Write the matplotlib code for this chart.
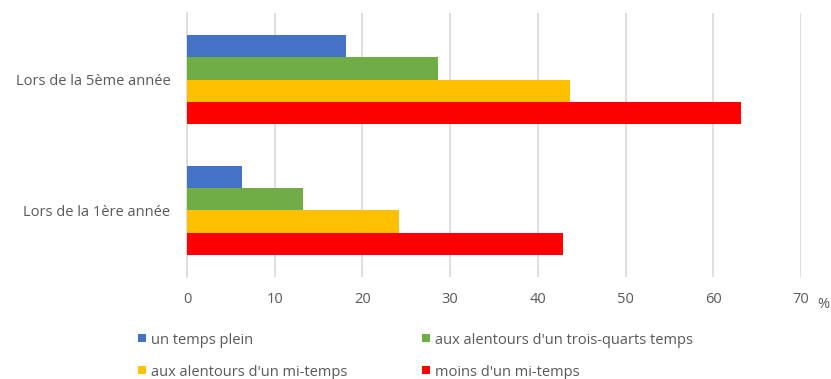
import matplotlib
matplotlib.use("Agg")
import matplotlib.pyplot as plt
from matplotlib.patches import Rectangle
import numpy as np

categories = ["Lors de la 1ère année", "Lors de la 5ème année"]
series_names = [
    "un temps plein",
    "aux alentours d'un trois-quarts temps",
    "aux alentours d'un mi-temps",
    "moins d'un mi-temps",
]
values = {
    "un temps plein": [6.3, 18.1],
    "aux alentours d'un trois-quarts temps": [13.2, 28.6],
    "aux alentours d'un mi-temps": [24.2, 43.7],
    "moins d'un mi-temps": [42.9, 63.2],
}
colors = ["#4472C4", "#70AD47", "#FFC000", "#FF0000"]
x_ticks = [0, 10, 20, 30, 40, 50, 60, 70]

plt.rcParams["font.family"] = ["Open Sans", "DejaVu Sans"]
text_color = "#595959"
fs = 10.5

W, H = 831, 379
fig = plt.figure(figsize=(W / 100, H / 100), dpi=100)
ax = fig.add_axes([187 / W, 1 - 277 / H, (801 - 187) / W, (277 - 13) / H])

n = len(series_names)
bar_h = 0.17
y = np.arange(len(categories))
for i, (name, col) in enumerate(zip(series_names, colors)):
    # first series sits on top within each group
    offset = (n - 1) / 2 * bar_h - i * bar_h
    ax.barh(y + offset, values[name], height=bar_h, color=col, zorder=3)

ax.set_xlim(0, 70)
ax.set_ylim(-0.51, 1.51)
ax.set_xticks(x_ticks)
ax.set_xticklabels([str(t) for t in x_ticks])
ax.set_yticks(y)
ax.set_yticklabels(categories)
ax.grid(axis="x", color="#D9D9D9", linewidth=1.2, zorder=0)
for s in ["top", "right", "bottom"]:
    ax.spines[s].set_visible(False)
ax.spines["left"].set_color("#D9D9D9")
ax.spines["left"].set_linewidth(1.2)
ax.tick_params(axis="both", length=0, colors=text_color, labelsize=fs)
ax.tick_params(axis="x", pad=11)
ax.tick_params(axis="y", pad=12)

fig.text(817 / W, 1 - 304 / H, "%", color=text_color, fontsize=fs, ha="left", va="center")

# legend: two columns, filled row by row
col_x = [138, 422]
row_y = [338, 370]
sq = 8
for k, (name, col) in enumerate(zip(series_names, colors)):
    cx = col_x[k % 2]
    cy = row_y[k // 2]
    fig.patches.append(Rectangle((cx / W, 1 - (cy + sq / 2) / H), sq / W, sq / H,
                                 transform=fig.transFigure, facecolor=col,
                                 edgecolor="none"))
    fig.text((cx + sq + 5) / W, 1 - cy / H, name, color=text_color, fontsize=fs,
             ha="left", va="center_baseline")

fig.savefig("out.png", dpi=100)
